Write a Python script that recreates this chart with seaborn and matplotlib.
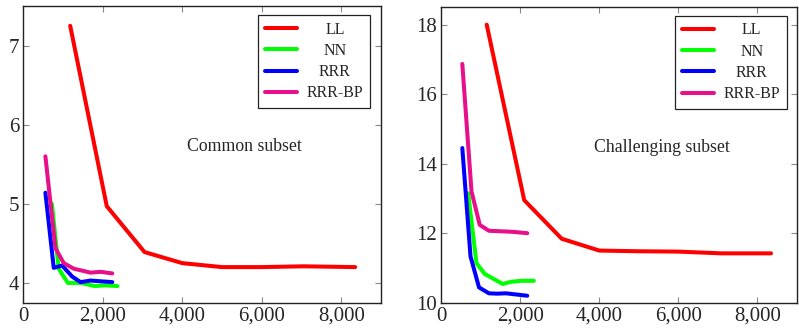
import pandas as pd
import matplotlib.pyplot as plt
import matplotlib.ticker as mticker
import seaborn as sns

sns.set_style('ticks')
plt.rcParams['font.family'] = ['Liberation Serif', 'DejaVu Serif']

# 数据 - Common subset
common_ll_x = [1180, 2100, 3050, 4000, 5000, 6000, 7050, 8350]
common_ll_y = [7.25, 4.97, 4.39, 4.25, 4.20, 4.20, 4.21, 4.20]
common_nn_x = [720, 890, 1120, 1450, 1800, 2050, 2370]
common_nn_y = [5.00, 4.18, 4.00, 4.00, 3.96, 3.97, 3.96]
common_rrr_x = [556, 766, 977, 1230, 1440, 1690, 2240]
common_rrr_y = [5.14, 4.19, 4.22, 4.08, 4.01, 4.03, 4.01]
common_bp_x = [556, 808, 1018, 1270, 1690, 1944, 2240]
common_bp_y = [5.60, 4.44, 4.25, 4.18, 4.13, 4.14, 4.12]

# 数据 - Challenging subset
chall_ll_x = [1150, 2100, 3050, 4000, 5000, 6000, 7100, 8350]
chall_ll_y = [18.0, 12.95, 11.84, 11.50, 11.48, 11.47, 11.42, 11.42]
chall_nn_x = [681, 890, 1097, 1554, 1763, 2012, 2344]
chall_nn_y = [13.15, 11.14, 10.83, 10.54, 10.60, 10.63, 10.63]
chall_rrr_x = [532, 740, 955, 1205, 1420, 1638, 2177]
chall_rrr_y = [14.45, 11.33, 10.44, 10.27, 10.26, 10.27, 10.20]
chall_bp_x = [532, 765, 973, 1205, 1800, 2177]
chall_bp_y = [16.87, 13.20, 12.24, 12.07, 12.04, 12.00]

methods = ['LL', 'NN', 'RRR', 'RRR-BP']
colors = ['#ff0000', '#00ff00', '#0000ff', '#e8108a']
titles = ['Common subset', 'Challenging subset']


def make_df(series):
    rows = []
    for name, xs, ys in series:
        for i, (x, y) in enumerate(zip(xs, ys)):
            rows.append({'method': name, 'order': i, 'x': x, 'y': y})
    return pd.DataFrame(rows)


common = make_df([('LL', common_ll_x, common_ll_y), ('NN', common_nn_x, common_nn_y),
                  ('RRR', common_rrr_x, common_rrr_y), ('RRR-BP', common_bp_x, common_bp_y)])
chall = make_df([('LL', chall_ll_x, chall_ll_y), ('NN', chall_nn_x, chall_nn_y),
                 ('RRR', chall_rrr_x, chall_rrr_y), ('RRR-BP', chall_bp_x, chall_bp_y)])

fig = plt.figure(figsize=(7.99, 3.32), dpi=100)
W, H = 799, 332
ax1 = fig.add_axes([23.3 / W, 1 - 302.7 / H, 357.7 / W, 296.7 / H])
ax2 = fig.add_axes([441.3 / W, 1 - 302.7 / H, 355.4 / W, 295.4 / H])

settings = [
    (ax1, common, (3.75, 7.5), [4, 5, 6, 7], (0.969, 0.970), (0.619, 0.525)),
    (ax2, chall, (10, 18.5), [10, 12, 14, 16, 18], (0.972, 0.972), (0.622, 0.527)),
]

for idx, (ax, df, ylim, yticks, legpos, txtpos) in enumerate(settings):
    sns.lineplot(data=df, x='x', y='y', hue='method', hue_order=methods,
                 palette=colors, units='method', estimator=None, sort=False,
                 linewidth=2.9, ax=ax)
    ax.set_xlim(0, 9000)
    ax.set_ylim(*ylim)
    ax.set_xticks([0, 2000, 4000, 6000, 8000])
    ax.set_yticks(yticks)
    ax.xaxis.set_major_formatter(mticker.FuncFormatter(lambda v, p: f'{int(v):,}'))
    ax.yaxis.set_major_formatter(mticker.FuncFormatter(lambda v, p: f'{int(v)}'))
    ax.set_xlabel('')
    ax.set_ylabel('')
    ax.tick_params(direction='in', length=4, width=0.8, color='#888888',
                   labelsize=15, top=True, right=True, pad=3)
    for sp in ax.spines.values():
        sp.set_visible(True)
        sp.set_linewidth(1.0)
        sp.set_color('#222222')
    ax.text(txtpos[0], txtpos[1], titles[idx], transform=ax.transAxes,
            ha='center', va='center', fontsize=12.8)
    leg = ax.legend(loc='upper right', bbox_to_anchor=legpos, borderaxespad=0,
                    fontsize=11.5, handlelength=2.0, handletextpad=0.6,
                    labelspacing=0.33, fancybox=False, framealpha=1,
                    edgecolor='#222222', borderpad=0.42)
    leg.get_frame().set_linewidth(0.9)
    for line in leg.get_lines():
        line.set_linewidth(2.9)

# 图例文字居中
fig.canvas.draw()
renderer = fig.canvas.get_renderer()
for ax in [ax1, ax2]:
    texts = ax.get_legend().get_texts()
    widths = [t.get_window_extent(renderer).width for t in texts]
    mw = max(widths)
    for t, w in zip(texts, widths):
        t.set_x((mw - w) / 2)

plt.savefig('out.png', dpi=100)
